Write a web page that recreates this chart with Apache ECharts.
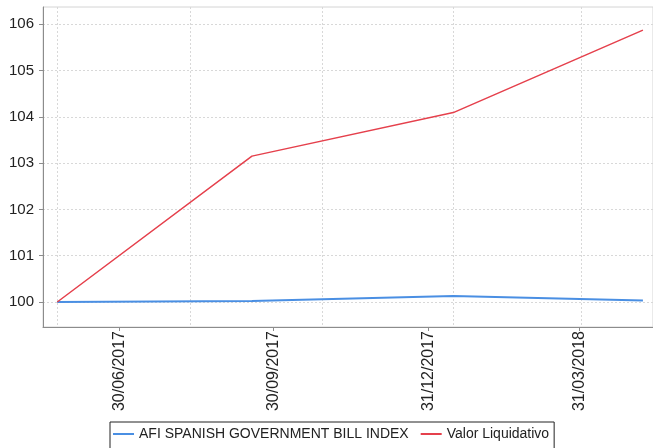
<!DOCTYPE html>
<html><head><meta charset="utf-8">
<script src="https://cdn.jsdelivr.net/npm/echarts@6/dist/echarts.min.js"></script>
<style>html,body{margin:0;padding:0;background:#fff}#c{width:653px;height:448px}</style>
</head><body><div id="c"></div>
<script>
const seriesNames = ['AFI SPANISH GOVERNMENT BILL INDEX', 'Valor Liquidativo'];
const dates = ['2017-05-24', '2017-09-17', '2018-01-15', '2018-05-08'];
const afiIndex = [100.00, 100.02, 100.13, 100.03];
const valorLiquidativo = [100.00, 103.15, 104.09, 105.87];
const tickDates = ['2017-06-30', '2017-09-30', '2017-12-31', '2018-03-31'];
const gridDates = ['2017-05-24', '2017-08-11', '2017-10-29', '2018-01-15', '2018-04-01'];
const yTicks = [100, 101, 102, 103, 104, 105, 106];
const xRange = ['2017-05-15T12:00:00', '2018-05-14T00:00:00'];
const yRange = [99.46, 106.37];

const t = s => new Date(s.length > 10 ? s : s + 'T00:00:00').getTime();
const pad = n => (n < 10 ? '0' : '') + n;
const fmt = v => { const d = new Date(v); return pad(d.getDate()) + '/' + pad(d.getMonth() + 1) + '/' + d.getFullYear(); };
const FONT = "'Liberation Sans', Arial, sans-serif";

const chart = echarts.init(document.getElementById('c'), null, { renderer: 'canvas' });
chart.setOption({
  animation: false,
  backgroundColor: '#fff',
  grid: { left: 43, top: 7, right: -3, bottom: 121, show: true, borderColor: '#d4d4d4', borderWidth: 1, containLabel: false },
  legend: {
    data: seriesNames, left: 110, top: 422, icon: 'rect', itemWidth: 21, itemHeight: 2, itemGap: 12,
    borderColor: '#222', borderWidth: 1, padding: [5, 5, 8, 3],
    textStyle: { fontFamily: FONT, fontSize: 14, color: '#222' }
  },
  xAxis: [{
    type: 'value', min: t(xRange[0]), max: t(xRange[1]),
    axisLine: { show: true, lineStyle: { color: '#8c8c8c', width: 1 } },
    axisTick: { show: true, length: 4, customValues: tickDates.map(t), lineStyle: { color: '#8c8c8c' } },
    axisLabel: { customValues: tickDates.map(t), rotate: 90, margin: 4, formatter: fmt, fontFamily: FONT, fontSize: 16, color: '#222' },
    splitLine: { show: false }
  }, {
    type: 'value', position: 'bottom', min: t(xRange[0]), max: t(xRange[1]),
    axisLine: { show: false }, axisLabel: { show: false },
    axisTick: { show: false, customValues: gridDates.map(t) },
    splitLine: { show: true, lineStyle: { color: '#d8d8d8', type: [2, 2], width: 1 } }
  }],
  yAxis: {
    type: 'value', min: yRange[0], max: yRange[1],
    axisLine: { show: true, lineStyle: { color: '#8c8c8c', width: 1 } },
    axisTick: { show: true, length: 4, customValues: yTicks, lineStyle: { color: '#8c8c8c' } },
    axisLabel: { customValues: yTicks, margin: 9, fontFamily: FONT, fontSize: 15, color: '#222' },
    splitLine: { show: true, lineStyle: { color: '#d8d8d8', type: [2, 2], width: 1 } }
  },
  series: [{
    name: seriesNames[0], type: 'line', xAxisIndex: 0, symbol: 'none', color: '#4a8fe3',
    lineStyle: { width: 2, color: '#4a8fe3' },
    data: dates.map((d, i) => [t(d), afiIndex[i]])
  }, {
    name: seriesNames[1], type: 'line', xAxisIndex: 0, symbol: 'none', color: '#e5404c',
    lineStyle: { width: 1.5, color: '#e5404c' },
    data: dates.map((d, i) => [t(d), valorLiquidativo[i]])
  }]
});
</script></body></html>
